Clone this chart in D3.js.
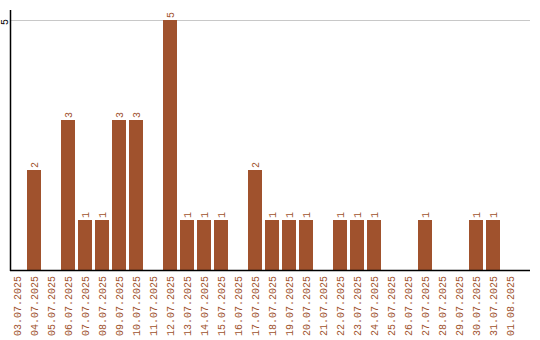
<!DOCTYPE html>
<html>
<head>
<meta charset="utf-8">
<script src="https://cdn.jsdelivr.net/npm/d3@7"></script>
<style>
  body { margin: 0; background: #fff; }
  svg { display: block; }
  text { font-family: "Liberation Mono", "DejaVu Sans Mono", monospace; font-size: 10px; }
</style>
</head>
<body>
<div id="chart"></div>
<script>
var dates = ["03.07.2025", "04.07.2025", "05.07.2025", "06.07.2025", "07.07.2025", "08.07.2025",
  "09.07.2025", "10.07.2025", "11.07.2025", "12.07.2025", "13.07.2025", "14.07.2025", "15.07.2025",
  "16.07.2025", "17.07.2025", "18.07.2025", "19.07.2025", "20.07.2025", "21.07.2025", "22.07.2025",
  "23.07.2025", "24.07.2025", "25.07.2025", "26.07.2025", "27.07.2025", "28.07.2025", "29.07.2025",
  "30.07.2025", "31.07.2025", "01.08.2025"];
var counts = [0, 2, 0, 3, 1, 1, 3, 3, 0, 5, 1, 1, 1, 0, 2, 1, 1, 1, 0, 1, 1, 1, 0, 0, 1, 0, 0, 1, 1, 0];
var yTicks = [5];

var W = 540, H = 340;
var left = 10, bottom = 270, axisEnd = 530;
var color = "#a0522d";

var svg = d3.select("#chart").append("svg")
  .attr("width", W)
  .attr("height", H);

var x = d3.scaleBand()
  .domain(dates)
  .range([left, 517])
  .paddingInner(3 / 17)
  .paddingOuter(0)
  .align(0);

var y = d3.scaleLinear()
  .domain([0, 5])
  .range([bottom, 20]);

// grid line(s)
svg.selectAll(".grid")
  .data(yTicks)
  .enter().append("line")
  .attr("x1", left).attr("x2", axisEnd)
  .attr("y1", d => y(d) + 0.5).attr("y2", d => y(d) + 0.5)
  .attr("stroke", "#c8c8c8")
  .attr("stroke-width", 1);

// y tick labels
svg.selectAll(".ylab")
  .data(yTicks)
  .enter().append("text")
  .attr("transform", d => "translate(8," + (y(d) + 2) + ") rotate(-90)")
  .attr("text-anchor", "middle")
  .attr("fill", "#000")
  .text(d => d);

// bars
var data = dates.map((d, i) => ({ date: d, v: counts[i] }));
svg.selectAll(".bar")
  .data(data.filter(d => d.v > 0))
  .enter().append("rect")
  .attr("x", d => x(d.date))
  .attr("y", d => y(d.v))
  .attr("width", x.bandwidth())
  .attr("height", d => bottom - y(d.v))
  .attr("fill", color);

// value labels
svg.selectAll(".val")
  .data(data.filter(d => d.v > 0))
  .enter().append("text")
  .attr("transform", d => "translate(" + (x(d.date) + x.bandwidth() / 2 + 3.5) + "," + (y(d.v) - 2) + ") rotate(-90)")
  .attr("fill", color)
  .text(d => d.v);

// axes lines
svg.append("line")
  .attr("x1", left + 0.5).attr("x2", left + 0.5)
  .attr("y1", 10).attr("y2", bottom + 1)
  .attr("stroke", "#000").attr("stroke-width", 1.5);
svg.append("line")
  .attr("x1", left).attr("x2", axisEnd)
  .attr("y1", bottom + 0.5).attr("y2", bottom + 0.5)
  .attr("stroke", "#000").attr("stroke-width", 1.5);

// x tick labels
svg.selectAll(".xlab")
  .data(dates)
  .enter().append("text")
  .attr("transform", d => "translate(" + (x(d) + x.bandwidth() / 2 + 3.5) + "," + (bottom + 6) + ") rotate(-90)")
  .attr("text-anchor", "end")
  .attr("fill", color)
  .text(d => d);
</script>
</body>
</html>
